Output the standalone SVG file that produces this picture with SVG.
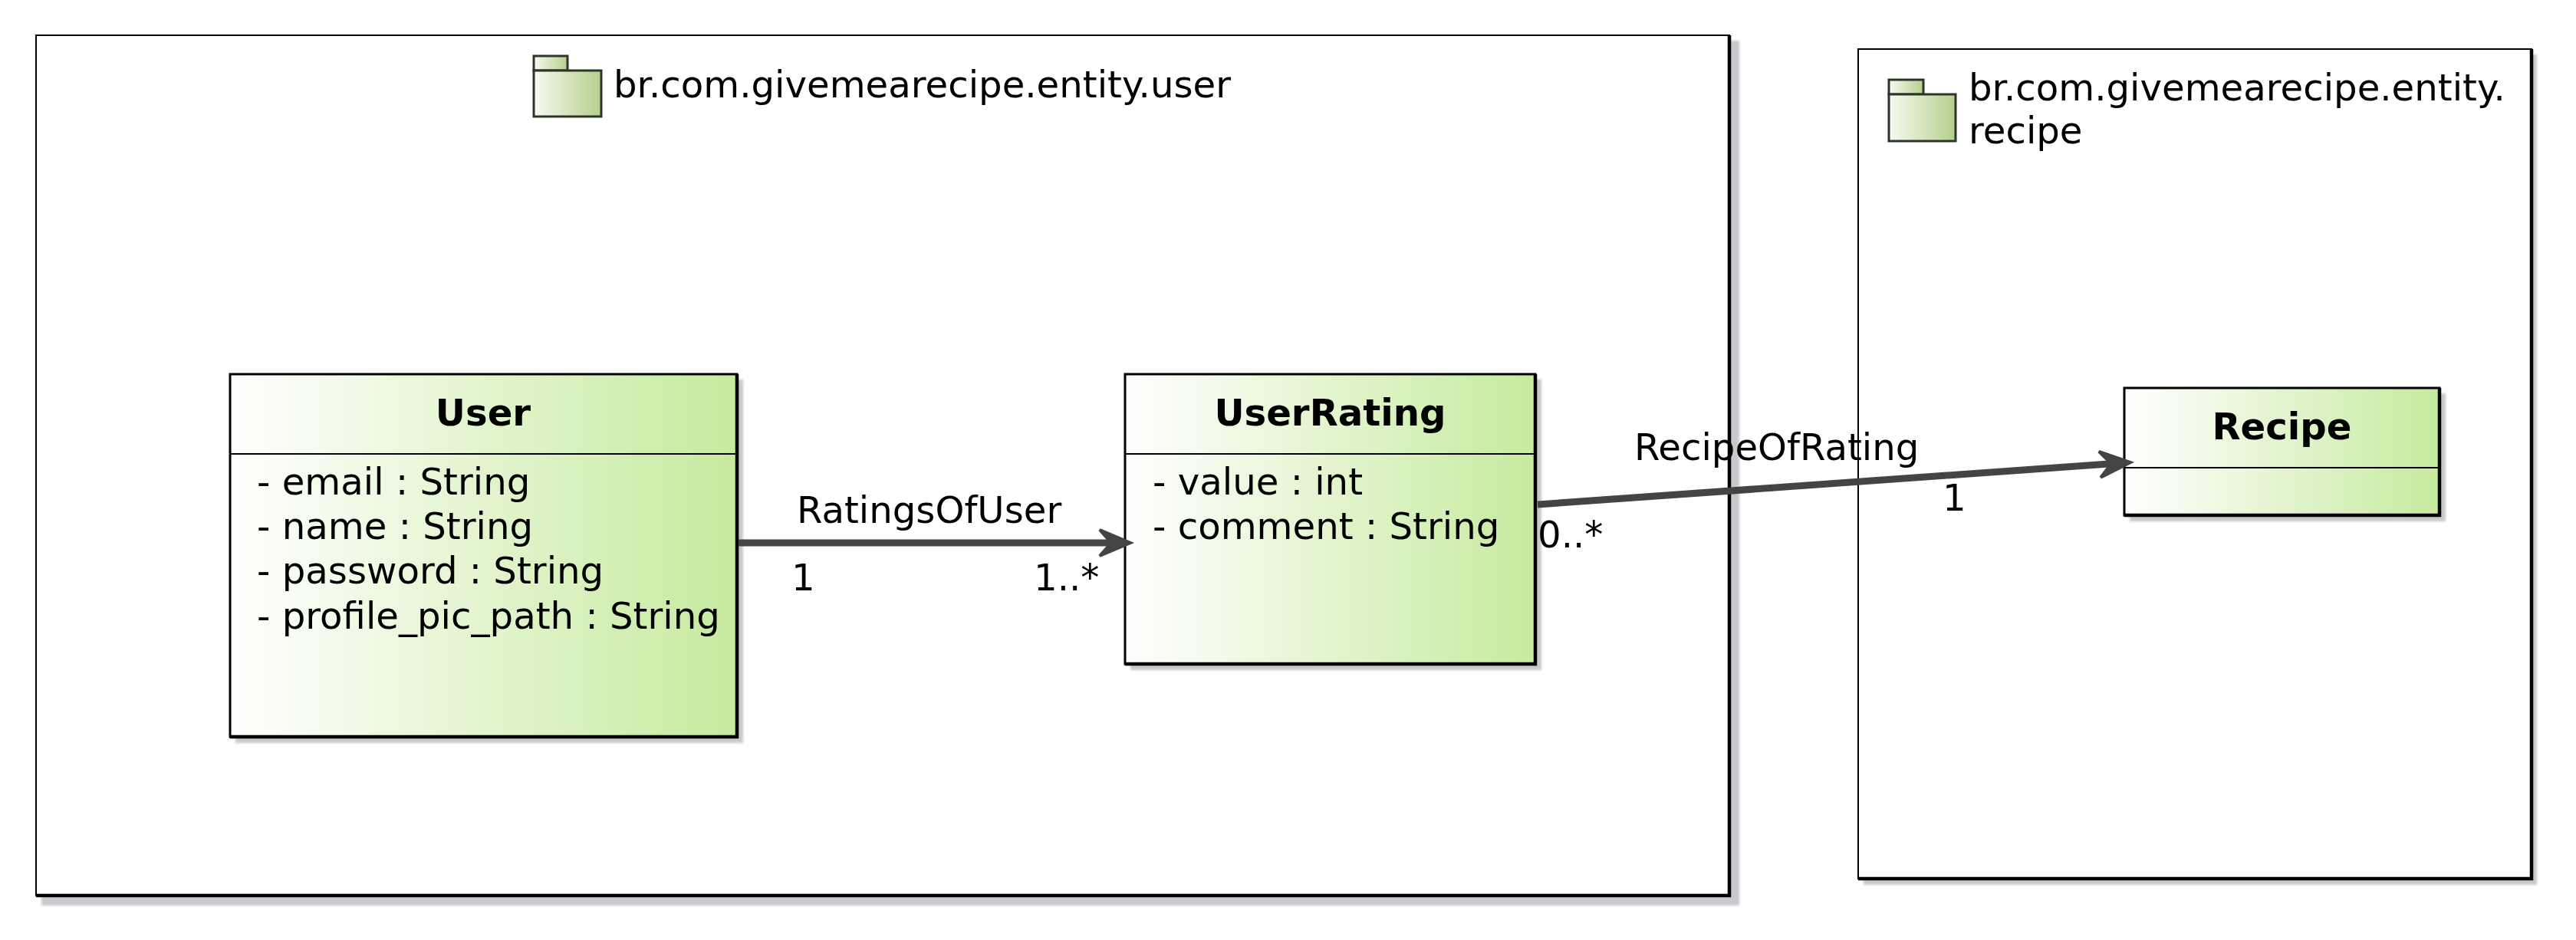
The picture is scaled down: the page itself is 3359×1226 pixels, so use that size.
<svg xmlns="http://www.w3.org/2000/svg" width="3359" height="1226" viewBox="0 0 3359 1226">
<style>
  text { font-family: "DejaVu Sans", "Liberation Sans", sans-serif; font-size: 48.2px; fill: #000; }
  .title { font-weight: bold; text-anchor: middle; }
  .pkg { fill: #ffffff; stroke: #000; stroke-width: 2; }
  .cls { fill: url(#clsGrad); stroke: #000; stroke-width: 3; }
  .edge { fill: none; stroke: #000; stroke-width: 4.5; }
  .sep { stroke: #000; stroke-width: 2; }
  .shadow { fill: #c9c9cd; filter: url(#blur); }
  .icon { fill: url(#iconGrad); stroke: #2f342b; stroke-width: 3; }
  .conn { fill: none; stroke: #444444; stroke-width: 9; }
</style>
<defs>
  <linearGradient id="clsGrad" x1="0" y1="0" x2="1" y2="0">
    <stop offset="0" stop-color="#ffffff"/>
    <stop offset="1" stop-color="#c6ea9e"/>
  </linearGradient>
  <linearGradient id="iconGrad" x1="0" y1="0" x2="1" y2="0">
    <stop offset="0" stop-color="#f7faf2"/>
    <stop offset="1" stop-color="#b3d08b"/>
  </linearGradient>
  <filter id="blur" x="-5%" y="-5%" width="110%" height="110%">
    <feGaussianBlur stdDeviation="1.5"/>
  </filter>
  <marker id="arrow" markerUnits="userSpaceOnUse" viewBox="-5 -5 52 44" markerWidth="52" markerHeight="44" refX="26" refY="17" orient="auto" overflow="visible">
    <path d="M0,0 L40,17 L0,34 L15,17 Z" fill="#444444" stroke="#444444" stroke-width="4" stroke-linejoin="miter"/>
  </marker>
</defs>

<g id="pkg-user">
  <rect class="shadow" x="54" y="53" width="2214" height="1128"/>
  <rect class="pkg" x="47" y="46" width="2208" height="1122"/>
  <polyline class="edge" points="2255,46 2255,1168 47,1168"/>
  <rect class="icon" x="696" y="73" width="44" height="19"/>
  <rect class="icon" x="696" y="92" width="88" height="60"/>
  <text x="800" y="127">br.com.givemearecipe.entity.user</text>
</g>

<g id="pkg-recipe">
  <rect class="shadow" x="2430" y="71" width="878" height="1083"/>
  <rect class="pkg" x="2423" y="64" width="878" height="1082"/>
  <polyline class="edge" points="3301,64 3301,1146 2423,1146"/>
  <rect class="icon" x="2463" y="104" width="45" height="19"/>
  <rect class="icon" x="2463" y="123" width="87" height="61"/>
  <text x="2567" y="131">br.com.givemearecipe.entity.</text>
  <text x="2567" y="187">recipe</text>
</g>

<g id="cls-user">
  <rect class="shadow" x="307" y="495" width="662" height="474"/>
  <rect class="cls" x="300" y="488" width="661" height="473"/>
  <polyline class="edge" points="961,488 961,961 300,961"/>
  <line class="sep" x1="300" y1="592" x2="961" y2="592"/>
  <text class="title" x="630" y="555">User</text>
  <text x="335" y="645">- email : String</text>
  <text x="335" y="703">- name : String</text>
  <text x="335" y="761">- password : String</text>
  <text x="335" y="820">- profile_pic_path : String</text>
</g>

<g id="cls-userrating">
  <rect class="shadow" x="1474" y="495" width="536" height="379"/>
  <rect class="cls" x="1467" y="488" width="535" height="378"/>
  <polyline class="edge" points="2002,488 2002,866 1467,866"/>
  <line class="sep" x1="1467" y1="592" x2="2002" y2="592"/>
  <text class="title" x="1734.5" y="555">UserRating</text>
  <text x="1503" y="645">- value : int</text>
  <text x="1503" y="703">- comment : String</text>
</g>

<g id="cls-recipe">
  <rect class="shadow" x="2777" y="513" width="412" height="167"/>
  <rect class="cls" x="2770" y="506" width="411" height="166"/>
  <polyline class="edge" points="3181,506 3181,672 2770,672"/>
  <line class="sep" x1="2770" y1="610" x2="3181" y2="610"/>
  <text class="title" x="2975.5" y="573">Recipe</text>
</g>

<g id="connectors">
  <g id="conn-ratingsofuser">
    <line class="conn" x1="963" y1="708" x2="1460" y2="708" marker-end="url(#arrow)"/>
    <text x="1039" y="682">RatingsOfUser</text>
    <text x="1032" y="770">1</text>
    <text x="1348" y="770">1..*</text>
  </g>
  <g id="conn-recipeofrating">
    <line class="conn" x1="2005" y1="658" x2="2764" y2="604" marker-end="url(#arrow)"/>
    <text x="2131" y="600">RecipeOfRating</text>
    <text x="2005" y="714">0..*</text>
    <text x="2533" y="666">1</text>
  </g>
</g>
</svg>
